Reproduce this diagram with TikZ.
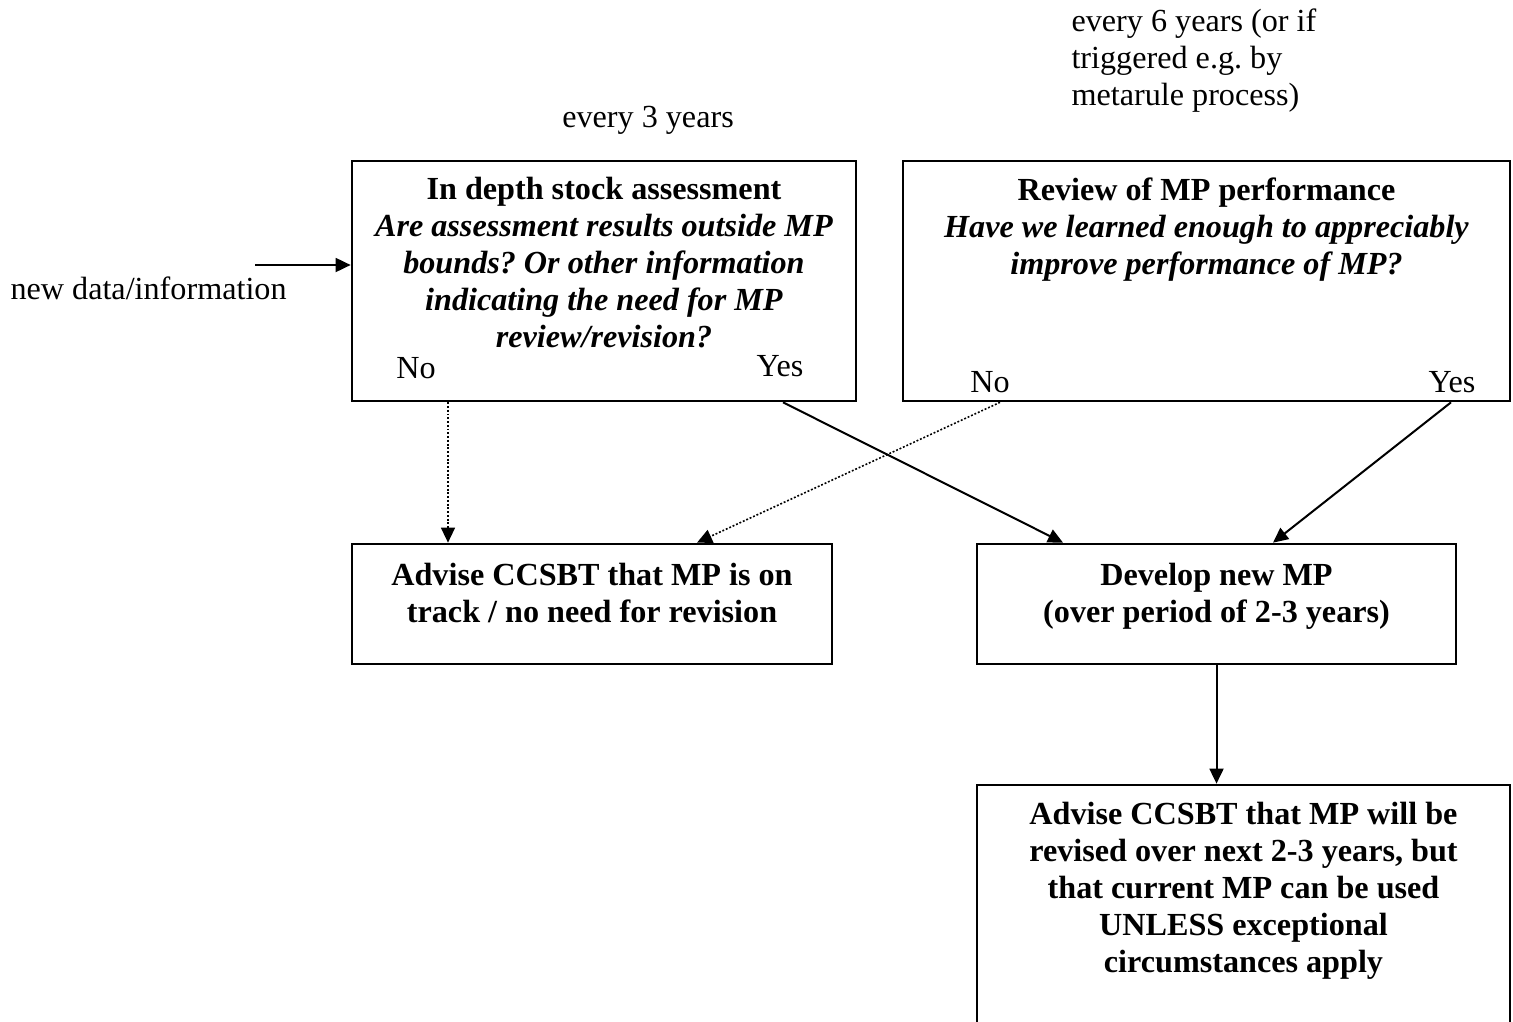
\documentclass[tikz,border=0pt]{standalone}
\usepackage{fontspec}
\setmainfont{Liberation Serif}
\usetikzlibrary{arrows.meta}
\frenchspacing
\newdimen\px
\px=0.373pt
\tikzset{
  box/.style={draw, line width=1pt, inner sep=0pt},
  txt/.style={inner sep=0pt, align=center, font=\fontsize{12}{13.8}\selectfont},
  yesline/.style={line width=0.75pt, -{Triangle[width=5.2pt,length=5.6pt]}},
  noline/.style={line width=0.6pt, dash pattern=on 0.7pt off 0.7pt, -{Triangle[width=5.2pt,length=5.6pt]}}
}
\begin{document}
\begin{tikzpicture}[x=\px, y=-\px]
    \useasboundingbox (0,0) rectangle (1513,1021);
    % boxes
    \node[box, minimum width=504\px, minimum height=240\px] (a) at (604,281)    {};
    \node[box, minimum width=607\px, minimum height=240\px] (b) at (1206.5,281) {};
    \node[box, minimum width=480\px, minimum height=120\px] (c) at (592,604)    {};
    \node[box, minimum width=479\px, minimum height=120\px] (d) at (1216.5,604) {};
    \node[box, minimum width=533\px, minimum height=260\px] (e) at (1243.5,915) {};
    % texts
    \node[txt, anchor=north] (at) at (604,177) {\textbf{In depth stock assessment}\\
        \textbf{\textit{Are assessment results outside MP}}\\
        \textbf{\textit{bounds? Or other information}}\\
        \textbf{\textit{indicating the need for MP}}\\
        \textbf{\textit{review/revision?}}};
    \node[txt, anchor=north] (bt) at (1206.5,177) {\textbf{Review of MP performance}\\
        \textbf{\textit{Have we learned enough to appreciably}}\\
        \textbf{\textit{improve performance of MP?}}};
    \node[txt, anchor=north] (ct) at (592,563) {\textbf{Advise CCSBT that MP is on}\\
        \textbf{track / no need for revision}};
    \node[txt, anchor=north] (dt) at (1216.5,563) {\textbf{Develop new MP}\\
        \textbf{(over period of 2-3 years)}};
    \node[txt, anchor=north] (et) at (1243.5,802) {\textbf{Advise CCSBT that MP will be}\\
        \textbf{revised over next 2-3 years, but}\\
        \textbf{that current MP can be used}\\
        \textbf{UNLESS exceptional}\\
        \textbf{circumstances apply}};
    \node[txt] (an) at (416,368)  {No};
    \node[txt] (ay) at (780,366)  {Yes};
    \node[txt] (bn) at (990,382)  {No};
    \node[txt] (by) at (1452,382) {Yes};
    \node[txt] (t3) at (648,120)  {every 3 years};
    \node[txt, align=left, anchor=north west] (t6) at (1071,8) {every 6 years (or if\\
        triggered e.g. by\\
        metarule process)};
    \node[txt, anchor=west] (nd) at (10,288) {new data/information};
    \coordinate (in) at (255,265);
    % connectors
    \draw[yesline] (in) -- (a.west |- in);
    \draw[noline]  (a.south -| 448,0)  -- (c.north -| 448,0);
    \draw[yesline] (a.south -| 783,0)  -- (d.north -| 1063,0);
    \draw[noline]  (b.south -| 1000,0) -- (c.north -| 697,0);
    \draw[yesline] (b.south -| 1451,0) -- (d.north -| 1273,0);
    \draw[yesline] (d.south) -- (d.south |- e.north);
\end{tikzpicture}
\end{document}
